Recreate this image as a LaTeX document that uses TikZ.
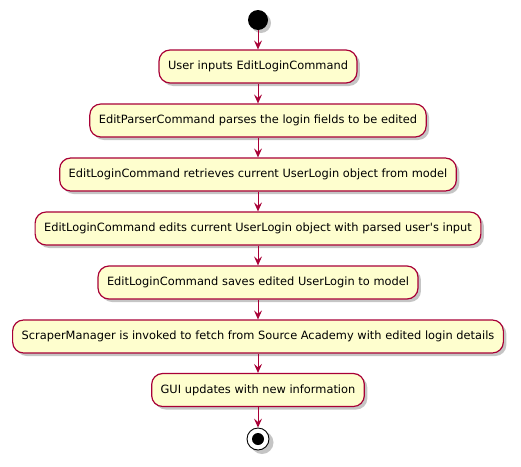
\documentclass[tikz,border=0pt]{standalone}
\usepackage{fontspec}
\setmainfont{DejaVu Sans}
\usepackage{xcolor}
\usetikzlibrary{arrows.meta,shadows}

\definecolor{umlfill}{HTML}{FEFECE}
\definecolor{umlline}{HTML}{A80036}

\tikzset{
  action/.style = {draw = umlline, fill = umlfill, line width = 1.2pt,
    rounded corners = 11pt, minimum height = 33pt, inner xsep = 9pt,
    font = \fontsize{11.4}{13}\selectfont,
    drop shadow = {shadow xshift = 3pt, shadow yshift = -3pt, fill = black!45, opacity = 0.5}},
  flow/.style = {draw = umlline, line width = 0.9pt, -{Stealth[length = 9pt, width = 8pt, inset = 3.5pt]}}
}

\begin{document}
\begin{tikzpicture}[x = 1pt, y = -1pt]
    \useasboundingbox (0, 0) rectangle (521, 466);
    % start and end
    \fill[black!45, opacity = 0.5] (261, 23) circle (10);
    \fill (258, 20) circle (10);
    \node[circle, minimum size = 20pt, inner sep = 0pt] (startnode) at (258, 20) {};

    % actions
    \node[action] (a1) at (258, 66.5) {User inputs EditLoginCommand};
    \node[action] (a2) at (258, 120.5) {EditParserCommand parses the login fields to be edited};
    \node[action] (a3) at (258, 174.5) {EditLoginCommand retrieves current UserLogin object from model};
    \node[action] (a4) at (258, 228.5) {EditLoginCommand edits current UserLogin object with parsed user\textquotesingle s input};
    \node[action] (a5) at (258, 282.5) {EditLoginCommand saves edited UserLogin to model};
    \node[action] (a6) at (258, 336.5) {ScraperManager is invoked to fetch from Source Academy with edited login details};
    \node[action] (a7) at (258, 390) {GUI updates with new information};

    \fill[black!45, opacity = 0.5] (262, 442.5) circle (11.5);
    \node[circle, draw = black, fill = white, line width = 0.9pt, minimum size = 22pt, inner sep = 0pt] (stop) at (258, 439) {};
    \fill (stop) circle (6);

    % connectors
    \draw[flow] (startnode) -- (a1);
    \draw[flow] (a1) -- (a2);
    \draw[flow] (a2) -- (a3);
    \draw[flow] (a3) -- (a4);
    \draw[flow] (a4) -- (a5);
    \draw[flow] (a5) -- (a6);
    \draw[flow] (a6) -- (a7);
    \draw[flow] (a7) -- (stop);
\end{tikzpicture}
\end{document}
